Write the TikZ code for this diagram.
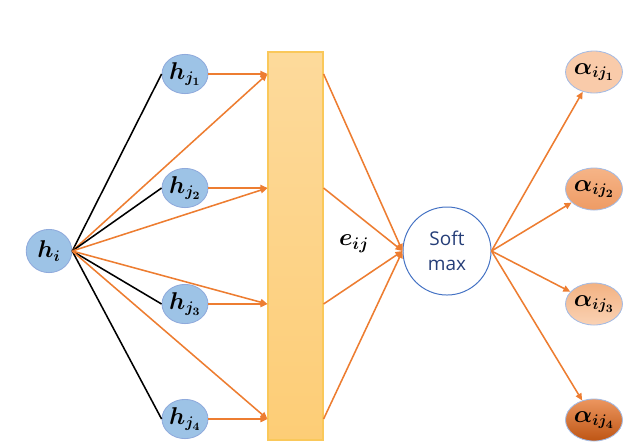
\documentclass[tikz,border=0pt]{standalone}
\usepackage{fontspec}
\setsansfont{Open Sans}
\usepackage{amsmath}
\usepackage{bm}
\usetikzlibrary{arrows.meta,positioning,shapes.geometric}
\definecolor{lineorange}{RGB}{237,125,49}
\definecolor{hblue}{RGB}{157,195,230}
\definecolor{hborder}{RGB}{143,170,220}
\definecolor{smblue}{RGB}{68,114,196}
\definecolor{smtext}{RGB}{38,62,120}

\begin{document}
\begin{tikzpicture}[x=0.025cm, y=-0.025cm, >={Triangle[length=5pt,width=4.5pt]},
    hnode/.style = {ellipse, draw=hborder, fill=hblue, line width=0.6pt,
      minimum width=1.15cm, minimum height=0.98cm, inner sep=0pt,
      font=\fontsize{16}{19}\selectfont\boldmath},
    anode/.style = {hnode, draw=hborder!80, minimum height=1.05cm},
    orangeline/.style = {draw=lineorange, line width=1.1pt},
    blackline/.style = {draw=black, line width=1.1pt}
    ]
    \useasboundingbox (0,0) rectangle (637,443);
    % input and key nodes
    \node[hnode, minimum width=1.14cm, minimum height=1.08cm] (hi) at (49,251) {$h_i$};
    \node[hnode] (hj1) at (185,74) {$h_{j_1}$};
    \node[hnode] (hj2) at (185,188) {$h_{j_2}$};
    \node[hnode] (hj3) at (185,304) {$h_{j_3}$};
    \node[hnode] (hj4) at (185,419) {$h_{j_4}$};
    % score layer
    \node[rectangle, draw={rgb,255:red,250;green,200;blue,90}, line width=0.8pt,
      top color={rgb,255:red,253;green,218;blue,155},
      bottom color={rgb,255:red,253;green,205;blue,118},
      minimum width=1.375cm, minimum height=9.7cm] (bar) at (295.5,246) {};
    \node[font=\fontsize{17}{20}\selectfont] (e) at (354,244) {$\bm{e_{ij}}$};
    % softmax
    \node[circle, draw=smblue, fill=white, line width=0.7pt, minimum size=2.2cm,
      align=center, text=smtext, font=\sffamily\fontsize{13.5}{18}\selectfont] (sm) at (447,251) {Soft\\max};
    % attention weights
    \node[anode, fill={rgb,255:red,249;green,203;blue,170}] (a1) at (594,72) {$\bm{\alpha}_{\bm{ij_1}}$};
    \node[anode, top color={rgb,255:red,246;green,180;blue,135}, bottom color={rgb,255:red,238;green,155;blue,100}] (a2) at (594,189) {$\bm{\alpha}_{\bm{ij_2}}$};
    \node[anode, top color={rgb,255:red,243;green,178;blue,130}, bottom color={rgb,255:red,250;green,210;blue,180}] (a3) at (594,304) {$\bm{\alpha}_{\bm{ij_3}}$};
    \node[anode, top color={rgb,255:red,236;green,150;blue,95}, bottom color={rgb,255:red,190;green,85;blue,20}] (a4) at (594,420) {$\bm{\alpha}_{\bm{ij_4}}$};

    \foreach \j in {1,2,3,4} {
      \draw[blackline] (hi.east) -- (hj\j.west);
      \draw[orangeline, ->] (hi.east) -- (hj\j -| bar.west);
      \draw[orangeline, ->] (hj\j.east) -- (hj\j -| bar.west);
      \draw[orangeline, ->] (hj\j -| bar.east) -- (sm.west);
      \draw[orangeline, ->] (sm.east) -- (a\j);
    }
\end{tikzpicture}
\end{document}
